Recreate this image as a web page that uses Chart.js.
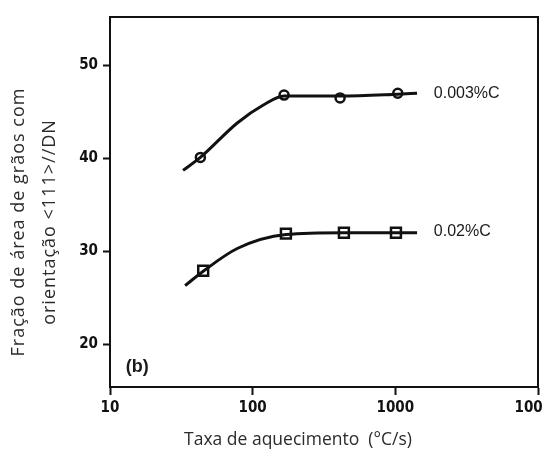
<!DOCTYPE html>
<html>
<head>
<meta charset="utf-8">
<script src="https://cdn.jsdelivr.net/npm/chart.js@4.4.1/dist/chart.umd.min.js"></script>
<style>
    html, body { margin: 0; padding: 0; background: #fff; }
    #wrap { width: 543px; height: 450px; position: relative; }
</style>
</head>
<body>
<div id="wrap"><canvas id="grainChart"></canvas></div>
<script>
// measured points (markers)
var rateLowC = [43, 166, 410, 1040];
var fracLowC = [40.1, 46.8, 46.5, 47.0];
var rateHighC = [45, 171, 436, 1010];
var fracHighC = [27.9, 31.9, 32.0, 32.0];

// fitted curves
var curveRateLowC = [32.5, 43, 78, 118, 166, 410, 1040, 1420];
var curveFracLowC = [38.7, 40.1, 43.8, 45.7, 46.7, 46.7, 46.9, 47.0];
var curveRateHighC = [33.6, 45, 78, 171, 436, 1010, 1420];
var curveFracHighC = [26.3, 27.85, 30.3, 31.8, 32.0, 32.0, 32.0];

var xTicks = [10, 100, 1000, 10000];
var yTicks = [20, 30, 40, 50];
var seriesLabels = ['0.003%C', '0.02%C'];
var panelLabel = '(b)';
var xTitle = 'Taxa de aquecimento  (°C/s)';
var yTitle = ['Fração de área de grãos com', 'orientação <111>//DN'];

var INK = '#111';
var TICK_FONT = 'Liberation Sans Narrow, Arial Narrow, DejaVu Sans Condensed, sans-serif';

function toPoints(xs, ys) {
    return xs.map(function (x, i) { return { x: x, y: ys[i] }; });
}

// frame, series names, panel letter and axis titles
var decorPlugin = {
    id: 'decor',
    afterDatasetsDraw: function (chart) {
        var ctx = chart.ctx;
        var a = chart.chartArea;
        var xs = chart.scales.x, ys = chart.scales.y;
        ctx.save();
        ctx.strokeStyle = INK;
        ctx.lineWidth = 2;
        ctx.strokeRect(a.left, a.top, a.right - a.left, a.bottom - a.top);

        ctx.fillStyle = '#1a1a1a';
        ctx.font = '16px Liberation Sans, Arial, sans-serif';
        ctx.textAlign = 'left';
        ctx.textBaseline = 'middle';
        ctx.fillText(seriesLabels[0], xs.getPixelForValue(1860), ys.getPixelForValue(47.0));
        ctx.fillText(seriesLabels[1], xs.getPixelForValue(1860), ys.getPixelForValue(32.1));

        ctx.font = 'bold 18px Liberation Sans, Arial, sans-serif';
        ctx.textAlign = 'center';
        ctx.fillText(panelLabel, xs.getPixelForValue(15.5), ys.getPixelForValue(17.6));
        ctx.restore();
    },
    afterDraw: function (chart) {
        var ctx = chart.ctx;
        ctx.save();
        ctx.fillStyle = '#2b2b2b';
        ctx.textAlign = 'center';
        ctx.textBaseline = 'middle';
        ctx.font = '17.5px Open Sans, sans-serif';
        ctx.fillText(xTitle, 298, 440);
        ctx.translate(0, 222);
        ctx.rotate(-Math.PI / 2);
        ctx.font = '18px Open Sans, sans-serif';
        ctx.letterSpacing = '1px';
        ctx.fillText(yTitle[0], 0, 19);
        ctx.fillText(yTitle[1], 0, 50);
        ctx.restore();
    }
};

var chart = new Chart(document.getElementById('grainChart'), {
    type: 'line',
    data: {
        datasets: [
            {
                data: toPoints(curveRateLowC, curveFracLowC),
                borderColor: INK, borderWidth: 3, pointRadius: 0,
                cubicInterpolationMode: 'monotone'
            },
            {
                data: toPoints(curveRateHighC, curveFracHighC),
                borderColor: INK, borderWidth: 3, pointRadius: 0,
                cubicInterpolationMode: 'monotone'
            },
            {
                label: seriesLabels[0],
                data: toPoints(rateLowC, fracLowC),
                showLine: false, pointStyle: 'circle', pointRadius: 4.5,
                pointBorderWidth: 2.5, pointBorderColor: INK, pointBackgroundColor: '#fff'
            },
            {
                label: seriesLabels[1],
                data: toPoints(rateHighC, fracHighC),
                showLine: false, pointStyle: 'rect', pointRadius: 7,
                pointBorderWidth: 2.5, pointBorderColor: INK, pointBackgroundColor: '#fff'
            }
        ]
    },
    options: {
        responsive: true,
        maintainAspectRatio: false,
        animation: false,
        layout: { autoPadding: false, padding: { top: 17, right: 5, left: 0, bottom: 0 } },
        plugins: { legend: { display: false }, tooltip: { enabled: false } },
        scales: {
            x: {
                type: 'logarithmic',
                min: 10, max: 10000,
                afterBuildTicks: function (scale) {
                    scale.ticks = xTicks.map(function (v) { return { value: v }; });
                },
                afterFit: function (scale) {
                    scale.height = 63;
                    scale.paddingLeft = 0;
                    scale.paddingRight = 0;
                },
                ticks: {
                    color: INK, padding: 4, maxRotation: 0, autoSkip: false,
                    font: { family: TICK_FONT, size: 15, weight: 'bold' },
                    callback: function (v) { return String(v); }
                },
                grid: { drawOnChartArea: false, tickLength: 8, tickWidth: 2, tickColor: INK },
                border: { color: INK, width: 2 }
            },
            y: {
                min: 15.4, max: 55.2,
                afterBuildTicks: function (scale) {
                    scale.ticks = yTicks.map(function (v) { return { value: v }; });
                },
                afterFit: function (scale) {
                    scale.width = 110;
                    scale.paddingTop = 0;
                    scale.paddingBottom = 0;
                },
                ticks: {
                    color: INK, padding: 5,
                    font: { family: TICK_FONT, size: 15, weight: 'bold' }
                },
                grid: { drawOnChartArea: false, tickLength: 7, tickWidth: 2, tickColor: INK },
                border: { color: INK, width: 2 }
            }
        }
    },
    plugins: [decorPlugin]
});
</script>
</body>
</html>
